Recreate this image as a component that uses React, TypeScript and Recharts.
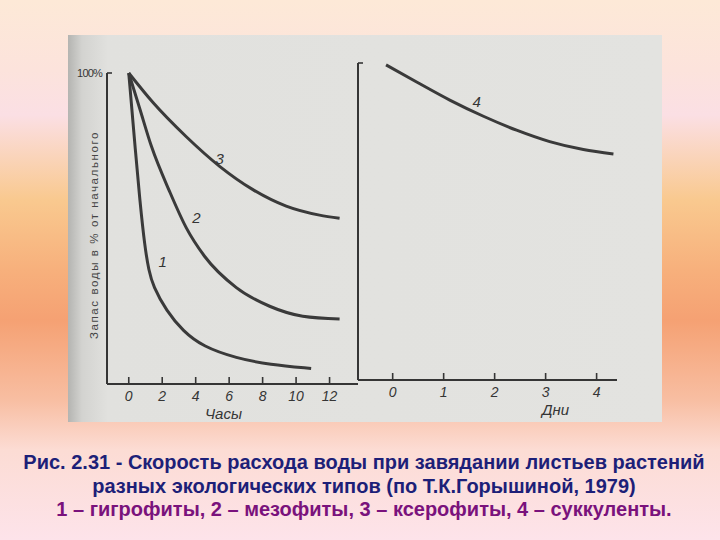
import { LineChart, Line, XAxis, YAxis, ReferenceDot } from "recharts";

// hours since cutting, % of initial water content
const hygroHours = [0, 0.42, 0.66, 0.96, 1.2, 1.45, 2.25, 3.24, 4.44, 6.43, 8.42, 10.9];
const hygroWater = [100, 73.6, 59.2, 44, 36.5, 31.5, 23.5, 17.0, 12.0, 8.3, 6.2, 5.0];

const mesoHours = [0, 0.66, 1.35, 2.45, 3.44, 4.54, 6.43, 8.42, 10.4, 12.6];
const mesoWater = [100, 88.5, 76.5, 61.8, 50.2, 41.0, 31.0, 25.0, 21.8, 20.9];

const xeroHours = [0, 1.45, 3.44, 5.43, 7.42, 9.41, 11.4, 12.6];
const xeroWater = [100, 90.5, 79.5, 70.0, 62.5, 57.2, 54.3, 53.3];

// days, % of initial water content
const succDays = [-0.13, 0.47, 1.12, 1.78, 2.43, 3.08, 3.74, 4.33];
const succWater = [99.4, 94.0, 88.3, 83.2, 78.8, 75.2, 72.7, 71.3];

const hourTicks = [0, 2, 4, 6, 8, 10, 12];
const dayTicks = [0, 1, 2, 3, 4];

const curveLabels = ["1", "2", "3", "4"];

const yLabel = "Запас воды в % от начального";
const caption1 = "Рис. 2.31 - Скорость расхода воды при завядании листьев растений";
const caption2 = "разных экологических типов (по Т.К.Горышиной, 1979)";
const caption3 = "1 – гигрофиты, 2 – мезофиты, 3 – ксерофиты, 4 – суккуленты.";

const zip = (xs: number[], ys: number[]) => xs.map((t, i) => ({ t, w: ys[i] }));

const hygro = zip(hygroHours, hygroWater);
const meso = zip(mesoHours, mesoWater);
const xero = zip(xeroHours, xeroWater);
const succ = zip(succDays, succWater);

const INK = "#353535";
const FONT = "'Liberation Sans', Arial, sans-serif";

const InnerTick = (props: any) => {
  const { x, y, payload } = props;
  return (
    <g>
      <line x1={x} x2={x} y1={y} y2={y - 7} stroke={INK} strokeWidth={1.6} />
      <text x={x} y={y + 17} textAnchor="middle" fontSize={14} fontStyle="italic" fill={INK} fontFamily={FONT}>
        {payload.value}
      </text>
    </g>
  );
};

const TopTick = (props: any) => {
  const { x, y, payload, showText } = props;
  return (
    <g>
      <line x1={x} x2={x + 5} y1={y} y2={y} stroke={INK} strokeWidth={1.6} />
      {showText && (
        <text x={x - 5} y={y + 4} textAnchor="end" fontSize={11} letterSpacing={-0.8} fill={INK} fontFamily={FONT}>
          {payload.value}%
        </text>
      )}
    </g>
  );
};

const NumLabel = (text: string) => (p: any) => (
  <text x={p.cx} y={p.cy} textAnchor="middle" dominantBaseline="middle" fontSize={15} fontStyle="italic" fill={INK} fontFamily={FONT}>
    {text}
  </text>
);

const lineProps = {
  dataKey: "w",
  type: "monotone" as const,
  dot: false,
  stroke: "#3a3a3a",
  strokeWidth: 3,
  isAnimationActive: false,
};

export default function App() {
  return (
    <div
      style={{
        position: "relative",
        width: 720,
        height: 540,
        overflow: "hidden",
        background:
          "linear-gradient(180deg, #fde9d7 0px, #fce3dc 70px, #fbdfe4 115px, #f9c98f 200px, #f7b07c 270px, #f5a173 320px, #f8bea2 400px, #fcdcd4 450px, #fde3ea 540px)",
      }}
    >
      <style>{"body{margin:0}"}</style>
      <div
        style={{
          position: "absolute",
          left: 68,
          top: 35,
          width: 594,
          height: 387,
          background: "linear-gradient(90deg, #b4b4b1 0px, #d3d3d0 14px, #e1e1de 40px, #e3e3e0 100%)",
        }}
      />

      <div style={{ position: "absolute", left: 40, top: 60 }}>
        <LineChart width={318} height={366} margin={{ top: 13, right: 0, bottom: 0, left: 0 }}>
          <XAxis
            type="number"
            dataKey="t"
            domain={[-1.3, 13.7]}
            allowDataOverflow
            ticks={hourTicks}
            height={42}
            tickSize={0}
            tickMargin={0}
            tickLine={false}
            axisLine={{ stroke: INK, strokeWidth: 2 }}
            tick={<InnerTick />}
            label={{ value: "Часы", position: "insideBottom", offset: 7, dx: -9, fontSize: 15, fontStyle: "italic", fill: INK, fontFamily: FONT }}
          />
          <YAxis
            type="number"
            domain={[0, 100]}
            ticks={[100]}
            width={67}
            tickSize={0}
            tickMargin={0}
            tickLine={false}
            axisLine={{ stroke: INK, strokeWidth: 2 }}
            tick={<TopTick showText />}
            label={{
              content: () => (
                <text
                  transform="translate(55,175) rotate(-90)"
                  textAnchor="middle"
                  dominantBaseline="middle"
                  fontSize={11.5}
                  letterSpacing={1.6}
                  fill="#454545"
                  fontFamily={FONT}
                >
                  {yLabel}
                </text>
              ),
            }}
          />
          <Line data={hygro} {...lineProps} type="basis" />
          <Line data={meso} {...lineProps} />
          <Line data={xero} {...lineProps} />
          <ReferenceDot x={2.03} y={38.9} r={0} shape={NumLabel(curveLabels[0])} />
          <ReferenceDot x={4.04} y={53.2} r={0} shape={NumLabel(curveLabels[1])} />
          <ReferenceDot x={5.43} y={72} r={0} shape={NumLabel(curveLabels[2])} />
        </LineChart>
      </div>

      <div style={{ position: "absolute", left: 340, top: 50 }}>
        <LineChart width={277} height={374} margin={{ top: 13, right: 0, bottom: 0, left: 0 }}>
          <XAxis
            type="number"
            dataKey="t"
            domain={[-0.68, 4.4]}
            allowDataOverflow
            ticks={dayTicks}
            height={44}
            tickSize={0}
            tickMargin={0}
            tickLine={false}
            axisLine={{ stroke: INK, strokeWidth: 2 }}
            tick={<InnerTick />}
            label={{ value: "Дни", position: "insideBottom", offset: 9, dx: 68, fontSize: 15, fontStyle: "italic", fill: INK, fontFamily: FONT }}
          />
          <YAxis
            type="number"
            domain={[0, 100]}
            ticks={[100]}
            width={18}
            tickSize={0}
            tickMargin={0}
            tickLine={false}
            axisLine={{ stroke: INK, strokeWidth: 2 }}
            tick={<TopTick />}
          />
          <Line data={succ} {...lineProps} />
          <ReferenceDot x={1.65} y={87.4} r={0} shape={NumLabel(curveLabels[3])} />
        </LineChart>
      </div>

      <div
        style={{
          position: "absolute",
          left: 4,
          top: 451,
          width: 720,
          textAlign: "center",
          fontFamily: FONT,
          fontWeight: "bold",
          fontSize: 20,
          lineHeight: "23.5px",
          whiteSpace: "nowrap",
        }}
      >
        <div style={{ color: "#1d1f78" }}>{caption1}</div>
        <div style={{ color: "#1d1f78" }}>{caption2}</div>
        <div style={{ color: "#7a127c" }}>{caption3}</div>
      </div>
    </div>
  );
}
